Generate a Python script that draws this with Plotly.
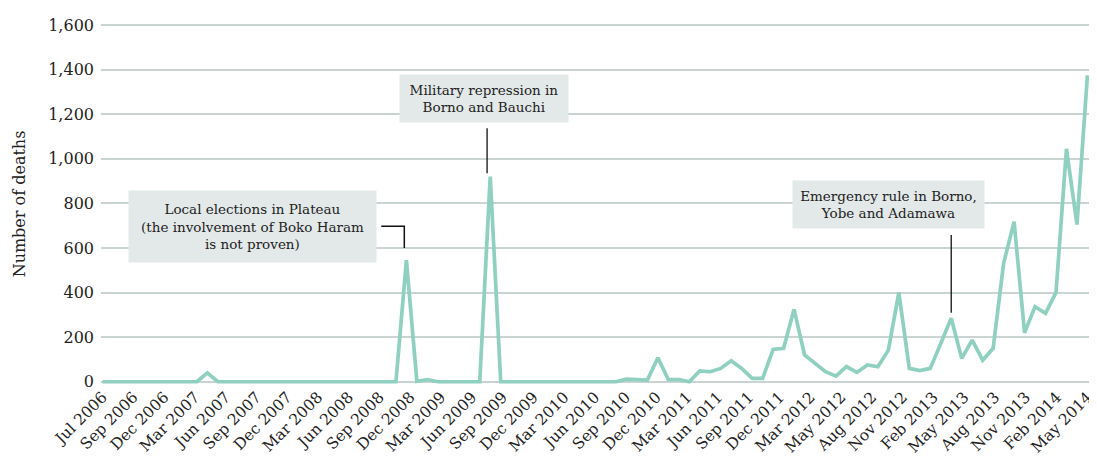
import plotly.graph_objects as go

# Monthly deaths, Jul 2006 .. May 2014 (95 months)
deaths = [
    0, 0, 0, 0, 0, 0, 0, 0, 0, 0,
    40,
    0, 0, 0, 0, 0, 0, 0, 0, 0, 0, 0, 0, 0, 0, 0, 0, 0, 0,
    545, 2, 10,
    0, 0, 0, 0, 0,
    920,
    0, 0, 0, 0, 0, 0, 0, 0, 0, 0, 0, 0,
    12, 8, 8, 108, 10, 10, 0, 49, 45, 60,
    94, 60, 15, 15, 145, 150, 325, 120, 85, 45,
    25, 68, 42, 75, 67, 142, 400, 60, 50, 60,
    172, 285, 105, 187, 97, 150, 531, 718, 220, 337,
    307, 400, 1045, 705, 1375,
]
month_index = list(range(len(deaths)))

tick_labels = [
    "Jul 2006", "Sep 2006", "Dec 2006", "Mar 2007", "Jun 2007", "Sep 2007",
    "Dec 2007", "Mar 2008", "Jun 2008", "Sep 2008", "Dec 2008", "Mar 2009",
    "Jun 2009", "Sep 2009", "Dec 2009", "Mar 2010", "Jun 2010", "Sep 2010",
    "Dec 2010", "Mar 2011", "Jun 2011", "Sep 2011", "Dec 2011", "Mar 2012",
    "May 2012", "Aug 2012", "Nov 2012", "Feb 2013", "May 2013", "Aug 2013",
    "Nov 2013", "Feb 2014", "May 2014",
]
last = len(deaths) - 1
tick_vals = [k * last / (len(tick_labels) - 1) for k in range(len(tick_labels))]

y_ticks = [0, 200, 400, 600, 800, 1000, 1200, 1400, 1600]

# annotation texts and the month index of the event they point to
events = [
    ("Local elections in Plateau<br>(the involvement of Boko Haram<br>is not proven)", 29),
    ("Military repression in<br>Borno and Bauchi", 37),
    ("Emergency rule in Borno,<br>Yobe and Adamawa", 81),
]

LINE = "#8fd0c1"
GRID = "#c9d4d3"
FONT = "DejaVu Serif"
TXT = "#222222"
BOX = "#e3e9e9"

fig = go.Figure()
fig.add_trace(go.Scatter(
    x=month_index, y=deaths, mode="lines",
    line=dict(color=LINE, width=3.7),
    hoverinfo="x+y", showlegend=False,
))

# Boxes (annotations) - positions in data units
box_specs = [
    dict(x=14.3, y=697, w=245, h=69),
    dict(x=36.45, y=1271, w=166, h=45),
    dict(x=74.97, y=796, w=189, h=45),
]
for (text, idx), b in zip(events, box_specs):
    fig.add_annotation(
        x=b["x"], y=b["y"], xref="x", yref="y", text=text, showarrow=False,
        xanchor="center", yanchor="middle", align="center",
        width=b["w"], height=b["h"], borderpad=1, bgcolor=BOX,
        font=dict(family=FONT, size=13.5, color=TXT),
    )

# connectors
i0 = events[0][1]
fig.add_shape(type="path", xref="x", yref="y",
              path=f"M 26.6 698 L {i0 - 0.2} 698 L {i0 - 0.2} {deaths[i0] + 55}",
              line=dict(color="#111111", width=1.5))
i1 = events[1][1]
fig.add_shape(type="line", xref="x", yref="y", x0=i1 - 0.3, x1=i1 - 0.3,
              y0=1137, y1=deaths[i1] + 15, line=dict(color="#111111", width=1.3))
i2 = events[2][1]
fig.add_shape(type="line", xref="x", yref="y", x0=i2, x1=i2,
              y0=658, y1=deaths[i2] + 25, line=dict(color="#111111", width=1.3))

# the page body has an 8px margin, so the figure is sized/offset to compensate
fig.update_layout(
    width=1089, height=456,
    margin=dict(l=93, r=8, t=16, b=80, autoexpand=False),
    plot_bgcolor="white", paper_bgcolor="white",
    font=dict(family=FONT, color=TXT),
    xaxis=dict(
        range=[-0.15, last + 0.15], tickmode="array", tickvals=tick_vals,
        ticktext=tick_labels, tickangle=-45, showgrid=False, zeroline=False,
        showline=False, ticks="", tickfont=dict(family=FONT, size=15.5, color=TXT),
        automargin=False,
    ),
    yaxis=dict(
        range=[-10, 1605], tickmode="array", tickvals=y_ticks,
        tickformat=",d", showgrid=True, gridcolor=GRID, gridwidth=1.5,
        zeroline=False, showline=False, ticks="",
        tickfont=dict(family=FONT, size=16, color=TXT), ticklabelstandoff=6,
        title=dict(text="Number of deaths", font=dict(family=FONT, size=16, color=TXT),
                   standoff=18),
        automargin=False,
    ),
)

fig.write_html("out.html")
